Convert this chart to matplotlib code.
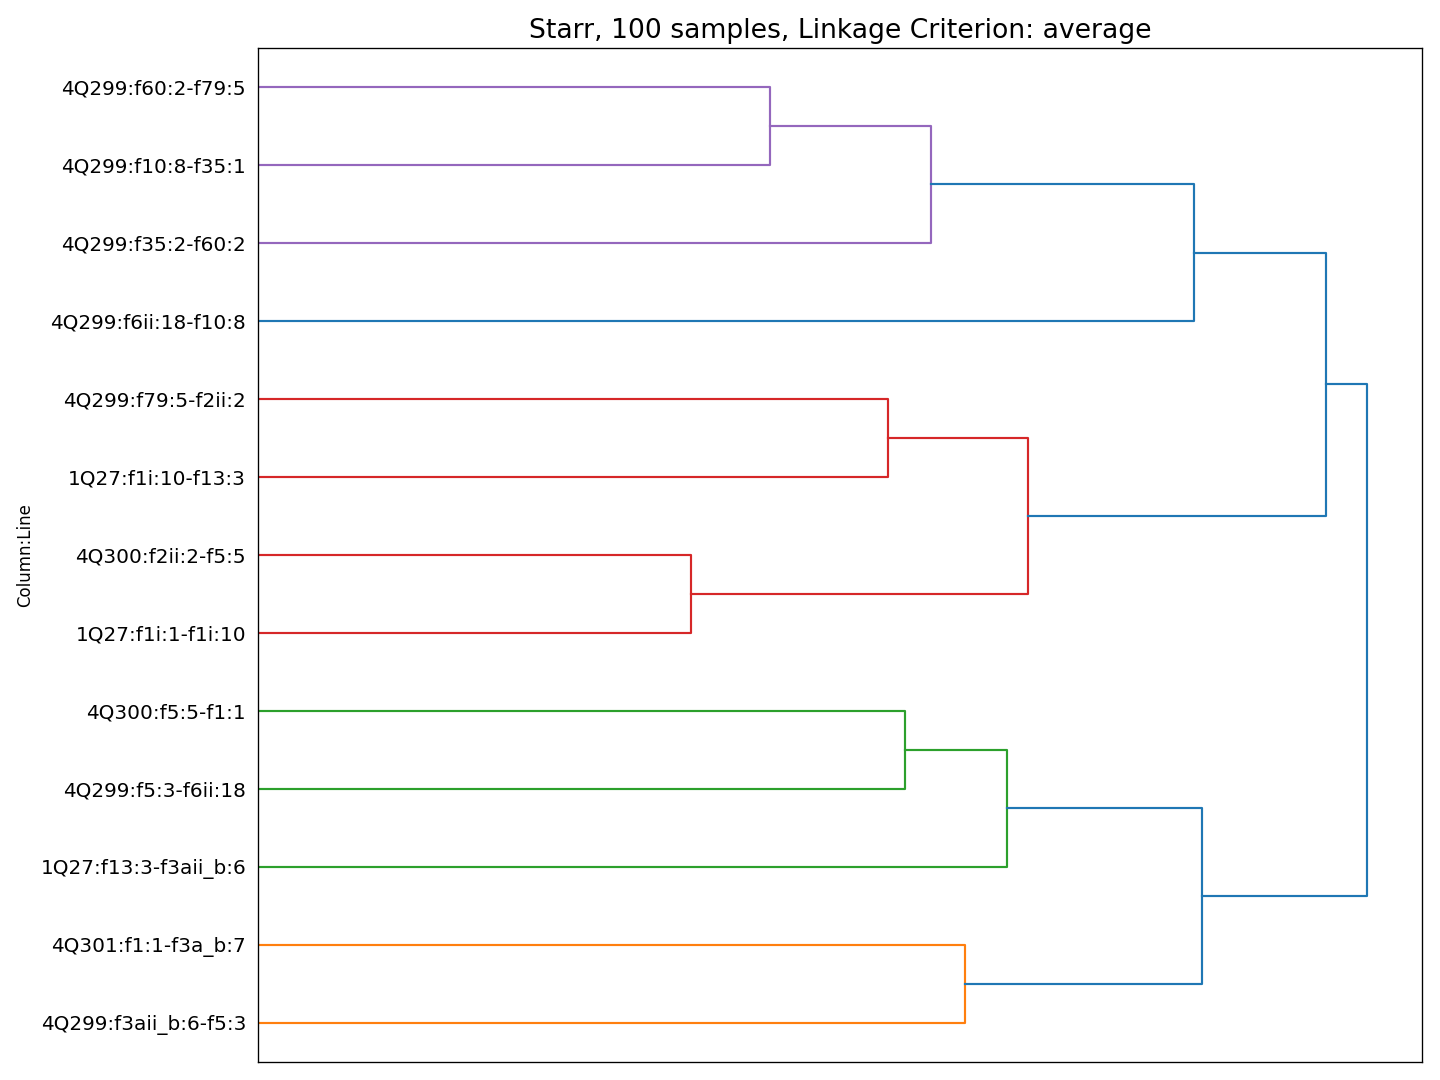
import matplotlib
matplotlib.use("Agg")
import matplotlib.pyplot as plt

# leaf labels, top to bottom
labels = [
    "4Q299:f60:2-f79:5",
    "4Q299:f10:8-f35:1",
    "4Q299:f35:2-f60:2",
    "4Q299:f6ii:18-f10:8",
    "4Q299:f79:5-f2ii:2",
    "1Q27:f1i:10-f13:3",
    "4Q300:f2ii:2-f5:5",
    "1Q27:f1i:1-f1i:10",
    "4Q300:f5:5-f1:1",
    "4Q299:f5:3-f6ii:18",
    "1Q27:f13:3-f3aii_b:6",
    "4Q301:f1:1-f3a_b:7",
    "4Q299:f3aii_b:6-f5:3",
]

# merges: (child a, child b, distance, colour) -- new nodes get ids 13, 14, ...
merge_a = [0, 13, 14, 4, 6, 16, 15, 8, 20, 11, 21, 19]
merge_b = [1, 2, 3, 5, 7, 17, 18, 9, 10, 12, 22, 23]
merge_dist = [0.462, 0.607, 0.844, 0.568, 0.391, 0.695, 0.963,
              0.584, 0.676, 0.6375, 0.852, 1.0]
merge_color = ["C4", "C4", "C0", "C3", "C3", "C3", "C0",
               "C2", "C2", "C1", "C0", "C0"]

n = len(labels)
ypos = {i: 10 * (n - 1 - i) + 5 for i in range(n)}
height = {i: 0.0 for i in range(n)}

fig, ax = plt.subplots(figsize=(12, 9), dpi=120)

for k in range(len(merge_a)):
    a, b = merge_a[k], merge_b[k]
    d = merge_dist[k]
    ax.plot([height[a], d, d, height[b]], [ypos[a], ypos[a], ypos[b], ypos[b]],
            color=merge_color[k], lw=1.3)
    node = n + k
    ypos[node] = (ypos[a] + ypos[b]) / 2
    height[node] = d

ax.set_ylim(0, 10 * n)
ax.set_xlim(0, max(merge_dist) * 1.05)
ax.set_yticks([ypos[i] for i in range(n)])
ax.set_yticklabels(labels, fontsize=12)
ax.tick_params(axis="y", length=0, pad=7)
ax.set_xticks([])
ax.set_ylabel("Column:Line", fontsize=10)
ax.set_title("Starr, 100 samples, Linkage Criterion: average", fontsize=16)

plt.subplots_adjust(left=0.179, right=0.9875, top=0.9556, bottom=0.0167)
plt.savefig("out.png")
